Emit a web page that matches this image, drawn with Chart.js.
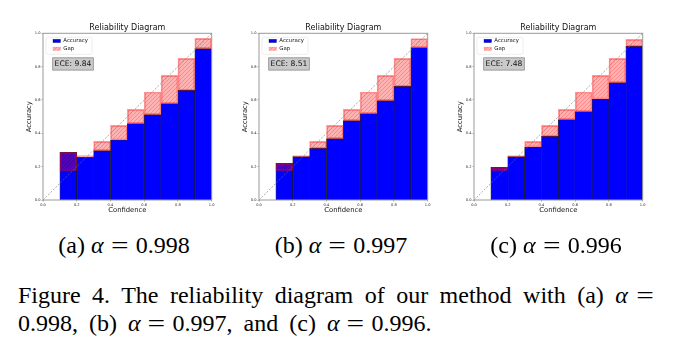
<!DOCTYPE html>
<html>
<head>
<meta charset="utf-8">
<script src="https://cdn.jsdelivr.net/npm/chart.js@4.4.1/dist/chart.umd.min.js"></script>
<style>
  body { margin:0; background:#fff; width:676px; height:352px; overflow:hidden; position:relative; }
  canvas { position:absolute; top:0; }
  .sub { position:absolute; top:233px; font-family:"Liberation Serif",serif; font-size:24px; line-height:24px; white-space:nowrap; transform:translateX(-50%); }
  .cap { position:absolute; left:18px; width:640px; font-family:"Liberation Serif",serif; font-size:24px; line-height:24px; white-space:nowrap; }
  .eq { display:inline-block; width:0.778em; margin:0 0.278em; text-align:center; transform:scaleX(1.3); }
  i { font-family:"Liberation Serif",serif; }
</style>
</head>
<body>
<canvas id="c-a" width="216" height="225" style="left:0px"></canvas>
<canvas id="c-b" width="216" height="225" style="left:216px"></canvas>
<canvas id="c-c" width="216" height="225" style="left:431px"></canvas>

<div class="sub" style="left:124px">(a) <i>α</i><span class="eq">=</span>0.998</div>
<div class="sub" style="left:341px">(b) <i>α</i><span class="eq">=</span>0.997</div>
<div class="sub" style="left:556px">(c) <i>α</i><span class="eq">=</span>0.996</div>

<div class="cap" style="top:283px;text-align:justify;text-align-last:justify">Figure 4. The reliability diagram of our method with (a) <i>α</i> <span class="eq" style="margin:0;text-align:right">=</span></div>
<div class="cap" style="top:311px;word-spacing:5px">0.998, (b) <i>α</i><span class="eq">=</span>0.997, and (c) <i>α</i><span class="eq">=</span>0.996.</div>

<script>
// ── DATOS ──
var binCenters = [0.15, 0.25, 0.35, 0.45, 0.55, 0.65, 0.75, 0.85, 0.95];
var accA  = [0.286, 0.256, 0.296, 0.360, 0.458, 0.512, 0.578, 0.658, 0.908];
var confA = [0.174, 0.266, 0.352, 0.448, 0.544, 0.648, 0.748, 0.850, 0.970];
var accB  = [0.220, 0.260, 0.310, 0.368, 0.476, 0.518, 0.596, 0.682, 0.914];
var confB = [0.176, 0.266, 0.352, 0.448, 0.544, 0.648, 0.748, 0.850, 0.968];
var accC  = [0.196, 0.260, 0.318, 0.382, 0.482, 0.530, 0.606, 0.704, 0.922];
var confC = [0.176, 0.266, 0.352, 0.448, 0.544, 0.648, 0.748, 0.850, 0.964];
var eceLabels = ['ECE: 9.84', 'ECE: 8.51', 'ECE: 7.48'];
var tickVals = [0, 0.2, 0.4, 0.6, 0.8, 1.0];

var FONT = '"DejaVu Sans", sans-serif';

// patrón de rayado '//'
function hatchPattern() {
  var t = document.createElement('canvas');
  t.width = 4; t.height = 4;
  var g = t.getContext('2d');
  g.fillStyle = 'rgba(255,0,0,0.3)';
  g.fillRect(0, 0, 4, 4);
  g.strokeStyle = 'rgba(255,0,0,0.3)';
  g.lineWidth = 0.8;
  g.beginPath();
  g.moveTo(-1, 5); g.lineTo(5, -1);
  g.moveTo(-1, 1); g.lineTo(1, -1);
  g.moveTo(3, 5); g.lineTo(5, 3);
  g.stroke();
  return g.createPattern(t, 'repeat');
}

var decor = {
  id: 'decor',
  afterDraw: function(chart) {
    var ctx = chart.ctx, a = chart.chartArea;
    var o = chart.options.plugins.decor;
    ctx.save();
    // marco
    ctx.strokeStyle = '#9a9a9a';
    ctx.lineWidth = 1;
    ctx.strokeRect(a.left, a.top, a.right - a.left, a.bottom - a.top);
    // título y ejes
    ctx.fillStyle = '#111';
    ctx.textAlign = 'center';
    ctx.textBaseline = 'middle';
    ctx.font = '8px ' + FONT;
    ctx.fillText('Reliability Diagram', (a.left + a.right) / 2, a.top - 5);
    ctx.font = '6.8px ' + FONT;
    ctx.fillText('Confidence', (a.left + a.right) / 2, a.bottom + 10.7);
    ctx.save();
    ctx.translate(a.left - 13.5, (a.top + a.bottom) / 2);
    ctx.rotate(-Math.PI / 2);
    ctx.fillText('Accuracy', 0, 0);
    ctx.restore();
    // leyenda
    var lx = a.left + 3, ly = a.top + 4;
    ctx.fillStyle = 'rgba(255,255,255,0.9)';
    ctx.strokeStyle = '#e0e0e0';
    ctx.lineWidth = 0.6;
    ctx.beginPath();
    ctx.roundRect(lx, ly, 46, 17, 1.5);
    ctx.fill(); ctx.stroke();
    ctx.fillStyle = '#0000ff';
    ctx.fillRect(a.left + 10, a.top + 6, 7.5, 3.3);
    ctx.strokeStyle = 'rgba(0,0,0,0.8)';
    ctx.lineWidth = 0.4;
    ctx.strokeRect(a.left + 10, a.top + 6, 7.5, 3.3);
    ctx.fillStyle = o.hatch;
    ctx.fillRect(a.left + 10, a.top + 13.8, 7.5, 3.3);
    ctx.strokeStyle = 'rgba(255,0,0,0.4)';
    ctx.strokeRect(a.left + 10, a.top + 13.8, 7.5, 3.3);
    ctx.fillStyle = '#111';
    ctx.textAlign = 'left';
    ctx.font = '5.4px ' + FONT;
    ctx.fillText('Accuracy', a.left + 20.3, a.top + 7.7);
    ctx.fillText('Gap', a.left + 20.3, a.top + 15.5);
    // caja ECE
    ctx.fillStyle = '#c9c9c9';
    ctx.strokeStyle = '#8a8a8a';
    ctx.lineWidth = 0.8;
    ctx.fillRect(a.left + 9.7, a.top + 24.5, 40.6, 12.3);
    ctx.strokeRect(a.left + 9.7, a.top + 24.5, 40.6, 12.3);
    ctx.fillStyle = '#111';
    ctx.textAlign = 'center';
    ctx.font = '7.6px ' + FONT;
    ctx.fillText(o.ece, a.left + 30, a.top + 30.8);
    ctx.restore();
  }
};

function makeChart(id, acc, conf, ece) {
  var hatch = hatchPattern();
  var accPts = binCenters.map(function(x, i) { return {x: x, y: [0, acc[i]]}; });
  var gapPts = binCenters.map(function(x, i) {
    return {x: x, y: [Math.min(acc[i], conf[i]), Math.max(acc[i], conf[i])]};
  });
  var ticksCfg = {
    color: '#222', font: {size: 3.6, family: FONT}, padding: 1,
    autoSkip: false, maxRotation: 0,
    callback: function(v) { return Number(v).toFixed(1); }
  };
  return new Chart(document.getElementById(id), {
    data: {
      datasets: [
        {type: 'line', data: [{x: 0, y: 0}, {x: 1, y: 1}], borderColor: 'rgba(120,120,120,0.9)',
         borderWidth: 0.7, borderDash: [2, 1.5], pointRadius: 0, order: -1},
        {type: 'bar', label: 'Gap', data: gapPts, backgroundColor: hatch,
         borderColor: 'rgba(255,0,0,0.4)', borderWidth: 1, borderSkipped: false, order: 0},
        {type: 'bar', label: 'Accuracy', data: accPts, backgroundColor: '#0000ff',
         borderColor: 'rgba(0,0,0,0.85)', borderWidth: 0.7, borderSkipped: false, order: 1}
      ]
    },
    options: {
      responsive: false,
      animation: false,
      datasets: {bar: {grouped: false, barPercentage: 1, categoryPercentage: 1}},
      layout: {padding: {left: 31, right: 4.3, top: 33.3, bottom: 15}},
      plugins: {legend: {display: false}, tooltip: {enabled: false}, decor: {ece: ece, hatch: hatch}},
      scales: {
        x: {
          type: 'linear', min: 0, max: 1, offset: false,
          afterBuildTicks: function(s) { s.ticks = tickVals.map(function(v) { return {value: v}; }); },
          afterFit: function(s) { s.height = 10; },
          grid: {display: true, drawOnChartArea: false, offset: false, tickLength: 1.5, color: '#666', lineWidth: 0.5},
          border: {display: false},
          ticks: ticksCfg
        },
        y: {
          type: 'linear', min: 0, max: 1,
          afterBuildTicks: function(s) { s.ticks = tickVals.map(function(v) { return {value: v}; }); },
          afterFit: function(s) { s.width = 12; },
          grid: {display: true, drawOnChartArea: false, tickLength: 1.5, color: '#666', lineWidth: 0.5},
          border: {display: false},
          ticks: ticksCfg
        }
      }
    },
    plugins: [decor]
  });
}

makeChart('c-a', accA, confA, eceLabels[0]);
makeChart('c-b', accB, confB, eceLabels[1]);
makeChart('c-c', accC, confC, eceLabels[2]);
</script>
</body>
</html>
